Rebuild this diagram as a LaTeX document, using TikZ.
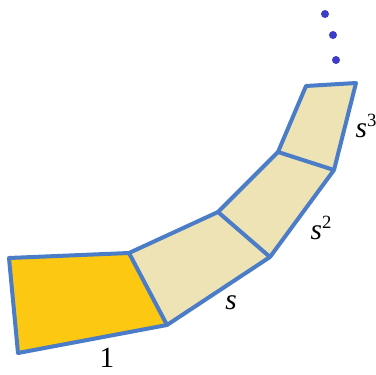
\documentclass[tikz,border=0pt]{standalone}
\usepackage{fontspec}
\setmainfont{Liberation Serif}
\definecolor{edgeblue}{RGB}{74,124,200}
\definecolor{gold}{RGB}{252,200,18}
\definecolor{beige}{RGB}{238,227,181}
\definecolor{dotblue}{RGB}{60,60,200}
\newcommand{\pw}[1]{\textit{s}\raisebox{0.75ex}{\fontsize{14}{14}\selectfont #1}}
\begin{document}
\begin{tikzpicture}[x=0.75pt,y=-0.75pt,
  piece/.style={draw=edgeblue,line width=3pt,line join=round},
  lbl/.style={font=\fontsize{22}{26}\selectfont,inner sep=0pt},
  dotmark/.style={circle,fill=dotblue,inner sep=0pt,minimum size=6pt}]
\useasboundingbox (0,0) rectangle (376,375);
\coordinate (a1) at (9,258);
\coordinate (a2) at (129,253);
\coordinate (a3) at (167,325);
\coordinate (a4) at (18,353);
\coordinate (b2) at (218,212);
\coordinate (b3) at (270,257);
\coordinate (c2) at (278,152);
\coordinate (c3) at (334,170);
\coordinate (d2) at (306,86);
\coordinate (d3) at (356,83);
\fill[beige] (a2) -- (b2) -- (c2) -- (d2) -- (d3) -- (c3) -- (b3) -- (a3) -- cycle;
\fill[gold] (a1) -- (a2) -- (a3) -- (a4) -- cycle;
\draw[piece] (a1) -- (a2) -- (a3) -- (a4) -- cycle;
\draw[piece] (a2) -- (b2) -- (b3) -- (a3);
\draw[piece] (b2) -- (c2) -- (c3) -- (b3);
\draw[piece] (c2) -- (d2) -- (d3) -- (c3);
\node[dotmark] (p1) at (325,14) {};
\node[dotmark] (p2) at (333,35) {};
\node[dotmark] (p3) at (336,60) {};
\node[lbl] (l1) at (107,358) {1};
\node[lbl] (l2) at (231,303) {\textit{s}};
\node[lbl] (l3) at (321,228) {\pw{2}};
\node[lbl] (l4) at (366,126) {\pw{3}};
\end{tikzpicture}
\end{document}
